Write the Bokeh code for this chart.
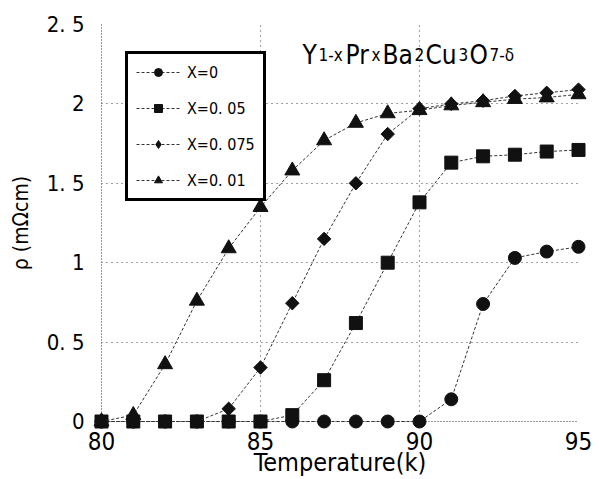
import math
from bokeh.plotting import figure
from bokeh.models import FixedTicker, Label, Legend, LegendItem, Range1d
from bokeh.embed import file_html
from bokeh.resources import INLINE

# ---- data ----
temperature = [80, 81, 82, 83, 84, 85, 86, 87, 88, 89, 90, 91, 92, 93, 94, 95]
rho_x0 = [0, 0, 0, 0, 0, 0, 0, 0, 0, 0, 0, 0.14, 0.74, 1.03, 1.07, 1.10]
rho_x005 = [0, 0, 0, 0, 0, 0, 0.04, 0.26, 0.62, 1.00, 1.38, 1.63, 1.67, 1.68, 1.70, 1.71]
rho_x0075 = [0, 0, 0, 0, 0.08, 0.34, 0.745, 1.15, 1.50, 1.81, 1.97, 2.00, 2.02, 2.05, 2.07, 2.09]
rho_x001 = [0, 0.04, 0.36, 0.76, 1.09, 1.35, 1.58, 1.77, 1.88, 1.94, 1.96, 1.99, 2.01, 2.03, 2.04, 2.06]
series_labels = ["X=0", "X=0. 05", "X=0. 075", "X=0. 01"]
x_ticks = [80, 85, 90, 95]
y_ticks = [0, 0.5, 1, 1.5, 2, 2.5]
y_tick_labels = ["0", "0. 5", "1", "1. 5", "2", "2. 5"]

FONT = "DejaVu Sans Condensed"

p = figure(width=599, height=479, output_backend="svg", toolbar_location=None,
           x_range=Range1d(80, 95), y_range=Range1d(0, 2.5),
           min_border_left=101, min_border_right=21, min_border_top=24,
           min_border_bottom=56)
p.outline_line_color = None
p.background_fill_color = "white"

# grids
p.xgrid.ticker = FixedTicker(ticks=[85, 90, 95])
p.ygrid.ticker = FixedTicker(ticks=[0.5, 1, 1.5, 2])
for g in (p.xgrid, p.ygrid):
    g.grid_line_color = "#444444"
    g.grid_line_dash = "1 4"
    g.grid_line_width = 1

# axes
p.xaxis.ticker = FixedTicker(ticks=x_ticks)
p.yaxis.ticker = FixedTicker(ticks=y_ticks)
p.yaxis.major_label_overrides = {t: s for t, s in zip(y_ticks, y_tick_labels)}
for ax in (p.xaxis, p.yaxis):
    ax.axis_line_color = "#333333"
    ax.axis_line_dash = "1 2"
    ax.major_tick_line_color = None
    ax.minor_tick_line_color = None
    ax.major_label_text_font = FONT
    ax.major_label_text_color = "black"
    ax.axis_label_text_font = FONT
    ax.axis_label_text_font_style = "normal"
    ax.axis_label_text_color = "black"
p.xaxis.major_label_text_font_size = "24px"
p.yaxis.major_label_text_font_size = "22px"
p.xaxis.major_label_standoff = 4
p.yaxis.major_label_standoff = 11

p.xaxis.axis_label = "Temperature(k)"
p.xaxis.axis_label_text_font_size = "25px"
p.xaxis.axis_label_standoff = -5
p.yaxis.axis_label = "ρ (mΩcm)"
p.yaxis.axis_label_text_font_size = "21px"
p.yaxis.axis_label_standoff = 11

# series
line_kw = dict(line_color="#333333", line_width=1, line_dash="3 2")
mk_kw = dict(fill_color="#111111", line_color="#111111")
items = []
specs = [
    (rho_x0, "circle", 13, 0.0),
    (rho_x005, "square", 13, 0.0),
    (rho_x0075, "square", 9.5, math.pi / 4),
    (rho_x001, "triangle", 15, 0.0),
]
for (vals, marker, size, ang), lab in zip(specs, series_labels):
    r1 = p.line(temperature, vals, level="overlay", **line_kw)
    r2 = p.scatter(temperature, vals, marker=marker, size=size, angle=ang,
                   level="overlay", **mk_kw)
    rends = [r1, r2]
    if ang != 0.0:
        # legend stand-in for the rotated-square (diamond) marker
        r3 = p.scatter(temperature, vals, marker="diamond", size=15,
                       visible=False, **mk_kw)
        rends = [r1, r3]
    items.append(LegendItem(label=lab, renderers=rends))

legend = Legend(items=items, location=(24, 220))
legend.label_text_font = FONT
legend.label_text_font_size = "16px"
legend.label_text_color = "black"
legend.border_line_color = "black"
legend.border_line_alpha = 1
legend.border_line_width = 3
legend.glyph_width = 44
legend.glyph_height = 20
legend.label_height = 20
legend.label_standoff = 7
legend.spacing = 16
legend.padding = 8
legend.margin = 0
legend.background_fill_alpha = 1
legend.inactive_fill_alpha = 0
p.add_layout(legend)

# title with subscripts
title_parts = [
    ("Y", 86.321, False), ("1-x", 86.824, True), ("Pr", 87.673, False),
    ("x", 88.491, True), ("Ba", 88.836, False), ("2", 89.843, True),
    ("Cu", 90.189, False), ("3", 91.226, True), ("O", 91.572, False),
    ("7-δ", 92.201, True),
]
for txt, xpos, sub in title_parts:
    p.add_layout(Label(x=xpos, y=2.31, text=txt, text_align="left",
                       text_baseline="alphabetic", text_font=FONT,
                       text_font_size="17px" if sub else "26px",
                       text_color="black"))

open("out.html", "w").write(file_html(p, INLINE))
